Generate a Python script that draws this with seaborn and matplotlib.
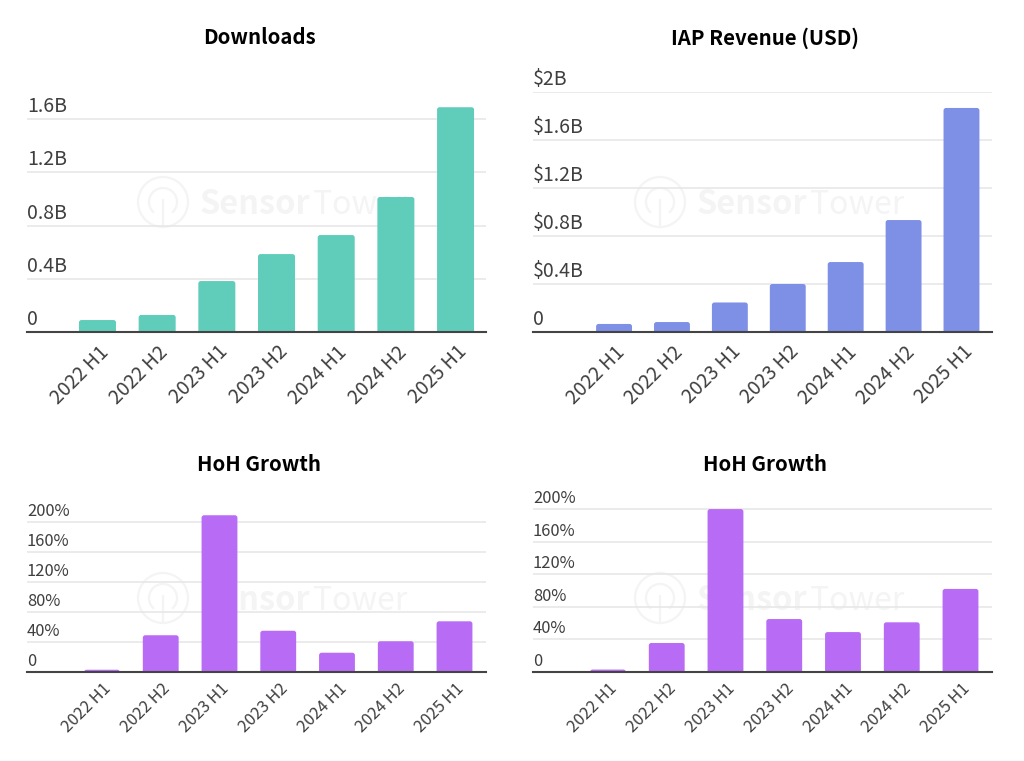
import matplotlib
matplotlib.use("Agg")
import matplotlib.pyplot as plt
from matplotlib.lines import Line2D
from matplotlib.patches import Arc, Circle, FancyBboxPatch
from matplotlib.transforms import IdentityTransform, ScaledTranslation
import pandas as pd
import seaborn as sns

W, H = 1024, 761

periods = ["2022 H1", "2022 H2", "2023 H1", "2023 H2", "2024 H1", "2024 H2", "2025 H1"]

downloads = [0.09, 0.128, 0.383, 0.586, 0.729, 1.015, 1.69]
revenue = [0.067, 0.083, 0.246, 0.40, 0.583, 0.933, 1.867]
downloads_growth = [3, 49, 209, 55, 25.7, 41, 67.6]
revenue_growth = [3, 35.6, 200, 65, 49, 61, 102]

downloads_ticks = [0, 0.4, 0.8, 1.2, 1.6]
downloads_labels = ["0", "0.4B", "0.8B", "1.2B", "1.6B"]
revenue_ticks = [0, 0.4, 0.8, 1.2, 1.6, 2.0]
revenue_labels = ["0", "$0.4B", "$0.8B", "$1.2B", "$1.6B", "$2B"]
growth_ticks = [0, 40, 80, 120, 160, 200]
growth_labels = ["0", "40%", "80%", "120%", "160%", "200%"]

TEAL = "#5fcdb9"
BLUE = "#7e8fe6"
PURPLE = "#b86bf5"
TEXT = "#3f3f3f"
GRID = "#e6e6e6"
BASE = "#444444"

sns.set_theme(style="white")
plt.rcParams["font.family"] = ["Noto Sans CJK SC", "DejaVu Sans"]


def px(d):
    # pixels to points at dpi 100
    return d * 72 / 100


def round_bars(ax, radius=2.5):
    # swap the barplot rectangles for ones with rounded corners, same geometry
    bbox = ax.get_position()
    x0, x1 = ax.get_xlim()
    y0, y1 = ax.get_ylim()
    sx = bbox.width * W / (x1 - x0)
    sy = bbox.height * H / (y1 - y0)
    for bar in list(ax.patches):
        r = radius / sx
        low = radius / sy
        rounded = FancyBboxPatch(
            (bar.get_x(), -low), bar.get_width(), bar.get_height() + low,
            boxstyle=f"round,pad=0,rounding_size={r}",
            mutation_aspect=sx / sy,
            facecolor=bar.get_facecolor(), edgecolor="none", zorder=3,
        )
        bar.remove()
        ax.add_patch(rounded)


def watermark(fig, cx, cy):
    wm = "#f4f4f4"
    r = 25
    art = [
        Circle((cx, H - cy), r, fill=False, ec=wm, lw=1.6, transform=IdentityTransform(), zorder=-2),
        Arc((cx, H - cy), 28, 28, theta1=-50, theta2=230, ec=wm, lw=1.6, transform=IdentityTransform(), zorder=-2),
        Line2D([cx, cx], [H - cy + 2, H - cy - r], color=wm, lw=1.6, transform=IdentityTransform(), zorder=-2),
    ]
    for a in art:
        fig.add_artist(a)
    fig.text((cx + 37) / W, 1 - (cy + 12) / H, "Sensor", fontsize=px(32.5), fontweight="bold", color=wm, zorder=-2)
    fig.text((cx + 150) / W, 1 - (cy + 12) / H, "Tower", fontsize=px(32), color=wm, zorder=-2)


def panel(fig, box, values, color, title, ticks, labels, ymax, xlim, width, tick_px, title_y, xlab_shift):
    left, top, right, bottom = box
    ax = fig.add_axes([left / W, 1 - bottom / H, (right - left) / W, (bottom - top) / H])
    ax.patch.set_alpha(0)
    df = pd.DataFrame({"period": periods, "value": values})
    sns.barplot(data=df, x="period", y="value", color=color, saturation=1, width=width, ax=ax, zorder=3)
    ax.set_xlim(*xlim)
    ax.set_ylim(0, ymax)
    round_bars(ax)

    ax.set_xlabel("")
    ax.set_ylabel("")
    ax.set_yticks(ticks)
    ax.set_yticklabels(labels)
    ax.grid(axis="y", color=GRID, lw=1.1, zorder=0)
    ax.set_axisbelow(True)
    sns.despine(ax=ax, left=True, top=True, right=True)
    ax.spines["bottom"].set_color(BASE)
    ax.spines["bottom"].set_linewidth(1.5)
    ax.spines["bottom"].set_zorder(5)
    ax.tick_params(axis="both", length=0, pad=0, colors=TEXT, labelsize=px(tick_px))

    # y labels sit on top of the gridlines, flush with the left end
    up = ScaledTranslation(0, 2 / 100, fig.dpi_scale_trans)
    for lab in ax.get_yticklabels():
        lab.set_ha("left")
        lab.set_va("bottom")
        lab.set_transform(lab.get_transform() + up)

    shift = ScaledTranslation(xlab_shift[0] / 100, xlab_shift[1] / 100, fig.dpi_scale_trans)
    for lab in ax.get_xticklabels():
        lab.set_rotation(45)
        lab.set_ha("right")
        lab.set_va("center")
        lab.set_rotation_mode("anchor")
        lab.set_transform(lab.get_transform() + shift)

    fig.text((left + right + 5) / 2 / W, 1 - title_y / H, title, ha="center", va="center",
             fontsize=px(20.4), fontweight="bold", color="black")
    return ax


fig = plt.figure(figsize=(W / 100, H / 100), dpi=100, facecolor="white")

for cx, cy in [(163, 202), (660, 202), (163, 598), (660, 598)]:
    watermark(fig, cx, cy)

panel(fig, (27, 92.6, 486, 332), downloads, TEAL, "Downloads", downloads_ticks, downloads_labels,
      1.8, (-1.181, 6.51), 0.62, 19.5, 38, (8, -17))
panel(fig, (533, 92, 992, 332), revenue, BLUE, "IAP Revenue (USD)", revenue_ticks, revenue_labels,
      2.0, (-1.40, 6.527), 0.62, 19.5, 38, (8, -17))
panel(fig, (27, 507, 486, 672), downloads_growth, PURPLE, "HoH Growth", growth_ticks, growth_labels,
      220, (-1.276, 6.536), 0.61, 16.5, 464, (7, -14))
panel(fig, (533, 505, 992, 672), revenue_growth, PURPLE, "HoH Growth", growth_ticks, growth_labels,
      205, (-1.276, 6.536), 0.61, 16.5, 464, (7, -14))

fig.add_artist(Line2D([0, 1], [0.5 / H, 0.5 / H], color="#ececec", lw=1, transform=fig.transFigure))

fig.savefig("out.png", dpi=100)
